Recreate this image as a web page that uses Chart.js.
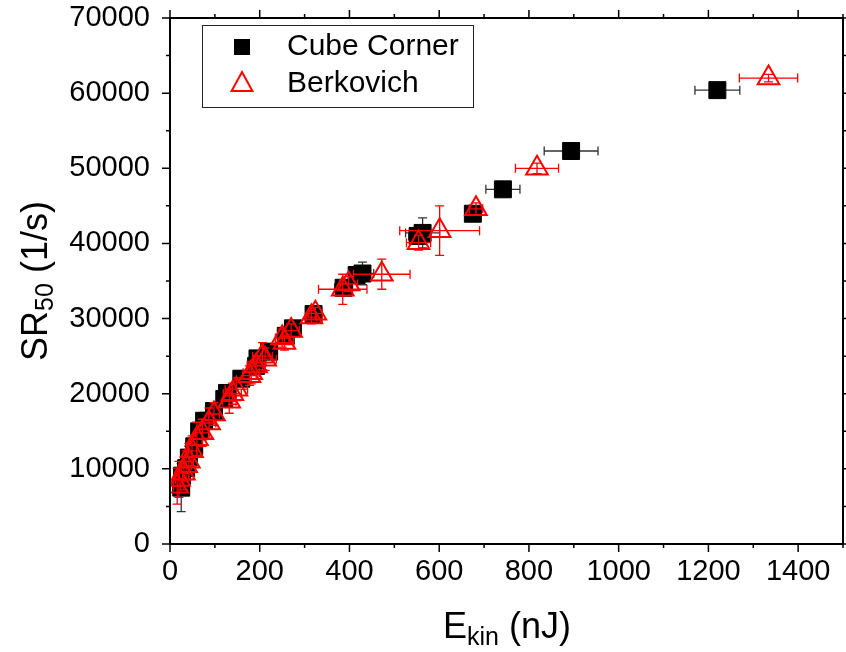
<!DOCTYPE html>
<html>
<head>
<meta charset="utf-8">
<script src="https://cdn.jsdelivr.net/npm/chart.js@4/dist/chart.umd.min.js"></script>
<style>
  body { margin: 0; background: #fff; }
</style>
</head>
<body>
<canvas id="chart" width="846" height="652"></canvas>
<script>
// Cube Corner: kinetic energy (nJ), SR50 (1/s) and their errors
const cubeE = [1220, 894, 742, 675, 563, 552, 429, 416, 387, 320, 274, 258, 221, 195, 192, 159, 127, 121, 98, 76, 65, 54, 42, 36, 27, 25];
const cubeSR = [60400, 52300, 47200, 43950, 41400, 41000, 36000, 35800, 34100, 30600, 28700, 27700, 25600, 24700, 23700, 22000, 20100, 19300, 17700, 16400, 15000, 13000, 11500, 10100, 9100, 7500];
const cubeEErr = [50, 60, 38, 13, 38, 20, 25, 15, 20, 12, 12, 12, 10, 10, 10, 10, 8, 8, 8, 8, 6, 6, 6, 5, 5, 5];
const cubeSRErr = [600, 800, 700, 700, 2000, 1000, 1500, 800, 1000, 800, 800, 800, 800, 900, 900, 1000, 1000, 1000, 1000, 1100, 1100, 1200, 1500, 1500, 2000, 3200];

// Berkovich
const berkE = [1334, 818, 682, 601, 554, 472, 398, 385, 324, 315, 270, 255, 250, 212, 206, 192, 181, 177, 148, 139, 132, 98, 87, 72, 60, 49, 42, 36, 31, 20, 16];
const berkSR = [62000, 50000, 44600, 41700, 40100, 35900, 34600, 33900, 30700, 30200, 28400, 26800, 27400, 24600, 25000, 23700, 22800, 22400, 20600, 20000, 19000, 17300, 16100, 14800, 14000, 12400, 11000, 10400, 9400, 8600, 7700];
const berkEErr = [65, 48, 15, 89, 27, 63, 20, 54, 15, 12, 18, 20, 15, 25, 22, 20, 18, 15, 25, 20, 15, 12, 15, 15, 12, 10, 10, 12, 10, 8, 8];
const berkSRErr = [500, 700, 800, 3300, 1000, 2000, 1000, 2000, 800, 900, 900, 1000, 1200, 1500, 1800, 1200, 1500, 1300, 1500, 1400, 1600, 1500, 2000, 1800, 2200, 2000, 2400, 2000, 2200, 2400, 2400];

const xTicks = [0, 200, 400, 600, 800, 1000, 1200, 1400];
const yTicks = [0, 10000, 20000, 30000, 40000, 50000, 60000, 70000];
const seriesNames = ["Cube Corner", "Berkovich"];

function toPoints(xs, ys, xe, ye) {
  return xs.map((x, i) => ({ x: x, y: ys[i], xErr: xe[i], yErr: ye[i] }));
}

const FONT = "'Liberation Sans', Arial, sans-serif";

// error bars, drawn just before each dataset's markers
const errorBars = {
  id: "errorBars",
  beforeDatasetDraw(chart, args) {
    const ds = chart.data.datasets[args.index];
    const xs = chart.scales.x, ys = chart.scales.y;
    const ctx = chart.ctx;
    const cap = 4.5;
    ctx.save();
    ctx.strokeStyle = ds.errColor;
    ctx.lineWidth = 1.3;
    ds.data.forEach(p => {
      const px = xs.getPixelForValue(p.x), py = ys.getPixelForValue(p.y);
      const xl = xs.getPixelForValue(p.x - p.xErr), xr = xs.getPixelForValue(p.x + p.xErr);
      const yt = ys.getPixelForValue(p.y + p.yErr), yb = ys.getPixelForValue(p.y - p.yErr);
      ctx.beginPath();
      ctx.moveTo(xl, py); ctx.lineTo(xr, py);
      ctx.moveTo(xl, py - cap); ctx.lineTo(xl, py + cap);
      ctx.moveTo(xr, py - cap); ctx.lineTo(xr, py + cap);
      ctx.moveTo(px, yt); ctx.lineTo(px, yb);
      ctx.moveTo(px - cap, yt); ctx.lineTo(px + cap, yt);
      ctx.moveTo(px - cap, yb); ctx.lineTo(px + cap, yb);
      ctx.stroke();
    });
    ctx.restore();
  }
};

// box frame with major/minor ticks on all four sides
const frame = {
  id: "frame",
  afterDatasetsDraw(chart) {
    const { ctx, chartArea: a, scales } = chart;
    ctx.save();
    ctx.strokeStyle = "#000";
    ctx.lineWidth = 2;
    ctx.strokeRect(a.left, a.top, a.right - a.left, a.bottom - a.top);
    ctx.lineWidth = 1.5;
    const xStep = xTicks[1] - xTicks[0];
    for (let v = 0; v <= scales.x.max; v += xStep / 2) {
      const px = scales.x.getPixelForValue(v);
      const len = v % xStep === 0 ? 8 : 4;
      ctx.beginPath();
      ctx.moveTo(px, a.bottom); ctx.lineTo(px, a.bottom + len);
      ctx.moveTo(px, a.top); ctx.lineTo(px, a.top - len);
      ctx.stroke();
    }
    const yStep = yTicks[1] - yTicks[0];
    for (let v = 0; v <= scales.y.max; v += yStep / 2) {
      const py = scales.y.getPixelForValue(v);
      const len = v % yStep === 0 ? 8 : 4;
      ctx.beginPath();
      ctx.moveTo(a.left, py); ctx.lineTo(a.left - len, py);
      ctx.moveTo(a.right, py); ctx.lineTo(a.right + len, py);
      ctx.stroke();
    }
    ctx.restore();
  }
};

function drawSub(ctx, parts, x, y) {
  // parts: [text, size, dy]
  let cx = x;
  parts.forEach(([t, size, dy]) => {
    ctx.font = size + "px " + FONT;
    ctx.fillText(t, cx, y + dy);
    cx += ctx.measureText(t).width;
  });
  return cx - x;
}

function measureSub(ctx, parts) {
  let w = 0;
  parts.forEach(([t, size]) => {
    ctx.font = size + "px " + FONT;
    w += ctx.measureText(t).width;
  });
  return w;
}

// axis titles with subscripts and the legend box
const decorations = {
  id: "decorations",
  afterDraw(chart) {
    const ctx = chart.ctx;
    ctx.save();
    ctx.fillStyle = "#000";
    ctx.textBaseline = "alphabetic";

    const xTitle = [["E", 36, 0], ["kin", 25, 7], [" (nJ)", 36, 0]];
    const xw = measureSub(ctx, xTitle);
    drawSub(ctx, xTitle, 507 - xw / 2, 638);

    const yTitle = [["SR", 36, 0], ["50", 25, 6], [" (1/s)", 36, 0]];
    const yw = measureSub(ctx, yTitle);
    ctx.save();
    ctx.translate(47, 281);
    ctx.rotate(-Math.PI / 2);
    drawSub(ctx, yTitle, -yw / 2, 0);
    ctx.restore();

    // legend
    ctx.strokeStyle = "#222";
    ctx.lineWidth = 1;
    ctx.strokeRect(202.5, 25.5, 271, 82);
    const ds = chart.data.datasets;
    const rows = [47, 84];
    ds.forEach((d, i) => {
      const mx = 242, my = rows[i];
      ctx.beginPath();
      if (d.pointStyle === "rect") {
        ctx.fillStyle = d.backgroundColor;
        ctx.fillRect(mx - 8, my - 8, 16, 16);
      } else {
        const r = 12;
        ctx.moveTo(mx, my - r);
        ctx.lineTo(mx + r * 0.866, my + r / 2 + 1);
        ctx.lineTo(mx - r * 0.866, my + r / 2 + 1);
        ctx.closePath();
        ctx.strokeStyle = d.borderColor;
        ctx.lineWidth = 2;
        ctx.stroke();
      }
      ctx.fillStyle = "#000";
      ctx.font = "30px " + FONT;
      ctx.textBaseline = "middle";
      ctx.fillText(d.label, 287, my);
    });
    ctx.restore();
  }
};

new Chart(document.getElementById("chart"), {
  type: "scatter",
  data: {
    datasets: [
      {
        label: seriesNames[0],
        data: toPoints(cubeE, cubeSR, cubeEErr, cubeSRErr),
        pointStyle: "rect",
        pointRadius: 12,
        backgroundColor: "#000",
        borderColor: "#000",
        borderWidth: 1,
        errColor: "#333",
        order: 2,
      },
      {
        label: seriesNames[1],
        data: toPoints(berkE, berkSR, berkEErr, berkSRErr),
        pointStyle: "triangle",
        pointRadius: 12.5,
        backgroundColor: "rgba(0,0,0,0)",
        borderColor: "#ff0000",
        borderWidth: 2,
        errColor: "#ff0000",
        order: 1,
      },
    ],
  },
  options: {
    responsive: false,
    animation: false,
    layout: { autoPadding: false, padding: { top: 18, right: 3, left: 0, bottom: 0 } },
    plugins: { legend: { display: false }, tooltip: { enabled: false } },
    scales: {
      x: {
        type: "linear",
        min: 0,
        max: 1500,
        afterBuildTicks: s => { s.ticks = xTicks.map(v => ({ value: v })); },
        afterFit: s => { s.height = 108; s.paddingLeft = 0; s.paddingRight = 0; },
        grid: { display: false, drawTicks: false },
        border: { display: false },
        ticks: { font: { size: 29, family: FONT }, color: "#000", padding: 11, maxRotation: 0, callback: v => String(v) },
      },
      y: {
        type: "linear",
        min: 0,
        max: 70000,
        afterBuildTicks: s => { s.ticks = yTicks.map(v => ({ value: v })); },
        afterFit: s => { s.width = 170; s.paddingTop = 0; s.paddingBottom = 0; },
        grid: { display: false, drawTicks: false },
        border: { display: false },
        ticks: { font: { size: 29, family: FONT }, color: "#000", padding: 20, callback: v => String(v) },
      },
    },
  },
  plugins: [errorBars, frame, decorations],
});
</script>
</body>
</html>
